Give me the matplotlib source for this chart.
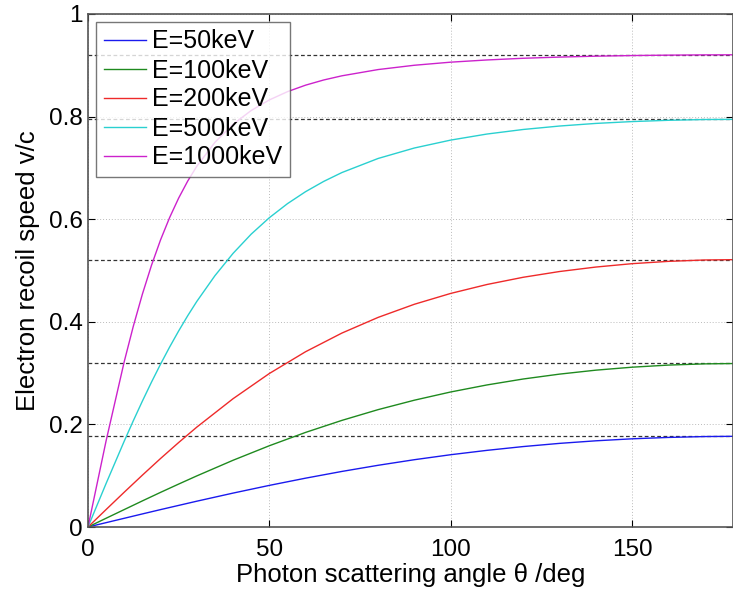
import numpy as np
import matplotlib
matplotlib.use("Agg")
import matplotlib.pyplot as plt

plt.rcParams['font.family'] = ['Liberation Sans', 'DejaVu Sans']

angles = [0, 5, 10, 15, 20, 25, 30, 40, 50, 60, 70, 80, 90,
          100, 110, 120, 130, 140, 150, 160, 170, 180]
angles_hi = [0, 5, 10, 12.5, 15, 17.5, 20, 22.5, 25, 27.5, 30, 35, 40, 45, 50, 55,
             60, 65, 70, 80, 90, 100, 110, 120, 130, 140, 150, 160, 170, 180]

v_50 = [0, 0.0085, 0.0170, 0.0255, 0.0339, 0.0421, 0.0503, 0.0661, 0.0811, 0.0952,
        0.1083, 0.1203, 0.1312, 0.1409, 0.1494, 0.1568, 0.1630, 0.1680, 0.1719,
        0.1746, 0.1763, 0.1769]
v_100 = [0, 0.0171, 0.0340, 0.0509, 0.0675, 0.0837, 0.0996, 0.1301, 0.1584, 0.1844,
         0.2078, 0.2288, 0.2472, 0.2632, 0.2769, 0.2885, 0.2980, 0.3057, 0.3115,
         0.3156, 0.3180, 0.3188]
v_200 = [0, 0.0341, 0.0679, 0.1011, 0.1335, 0.1647, 0.1947, 0.2501, 0.2992, 0.3417,
         0.3780, 0.4086, 0.4342, 0.4553, 0.4727, 0.4868, 0.4980, 0.5067, 0.5133,
         0.5178, 0.5205, 0.5213]
v_500 = [0, 0.0850, 0.1675, 0.2072, 0.2455, 0.2823, 0.3174, 0.3507, 0.3822, 0.4119,
         0.4397, 0.4899, 0.5334, 0.5709, 0.6029, 0.6303, 0.6537, 0.6737, 0.6909,
         0.7184, 0.7388, 0.7542, 0.7660, 0.7749, 0.7816, 0.7867, 0.7903, 0.7928,
         0.7943, 0.7947]
v_1000 = [0, 0.1683, 0.3226, 0.3915, 0.4540, 0.5100, 0.5596, 0.6031, 0.6412, 0.6744,
          0.7032, 0.7499, 0.7851, 0.8119, 0.8325, 0.8486, 0.8613, 0.8714, 0.8795,
          0.8917, 0.9001, 0.9061, 0.9104, 0.9137, 0.9160, 0.9178, 0.9190, 0.9198,
          0.9203, 0.9205]

series = [(angles, v_50), (angles, v_100), (angles, v_200),
          (angles_hi, v_500), (angles_hi, v_1000)]
labels = ['E=50keV', 'E=100keV', 'E=200keV', 'E=500keV', 'E=1000keV']
colors = ['#1a1aee', '#1f8a1f', '#ee2a2a', '#2ad0d0', '#cc22cc']

x_ticks = [0, 50, 100, 150]
y_ticks = [0, 0.2, 0.4, 0.6, 0.8, 1]
y_tick_labels = ['0', '0.2', '0.4', '0.6', '0.8', '1']

fig = plt.figure(figsize=(7.33, 5.95), dpi=100)
ax = fig.add_axes([88/733, 68/595, 645/733, 513/595])

for (xs, vals), lab, col in zip(series, labels, colors):
    ax.plot(xs, vals, color=col, lw=1.0, label=lab)

for xs, vals in series:
    ax.axhline(max(vals), color='#333333', lw=0.9, ls=(0, (3, 2)), zorder=1)

ax.set_xlim(0, 177.85)
ax.set_ylim(0, 1)
ax.set_xticks(x_ticks)
ax.set_yticks(y_ticks)
ax.set_yticklabels(y_tick_labels)
ax.grid(True, color='#bbbbbb', ls=(0, (1, 2)), lw=0.7)
ax.tick_params(direction='in', labelsize=17.5, length=5, top=True, right=True,
               width=0.8)
ax.tick_params(axis='x', pad=9)
ax.tick_params(axis='y', pad=4)
for s in ax.spines.values():
    s.set_color('#555555')
    s.set_linewidth(1.2)

ax.set_xlabel('Photon scattering angle θ /deg', fontsize=18.5, labelpad=1)
ax.set_ylabel('Electron recoil speed v/c', fontsize=18.5, labelpad=6)

leg = ax.legend(loc='upper left', fontsize=18, frameon=True, fancybox=False,
                handlelength=1.7, handletextpad=0.25, labelspacing=0.2,
                borderpad=0.3, borderaxespad=0.32)
leg.get_frame().set_edgecolor('#555555')
leg.get_frame().set_linewidth(1.0)

fig.savefig('out.png', dpi=100)
